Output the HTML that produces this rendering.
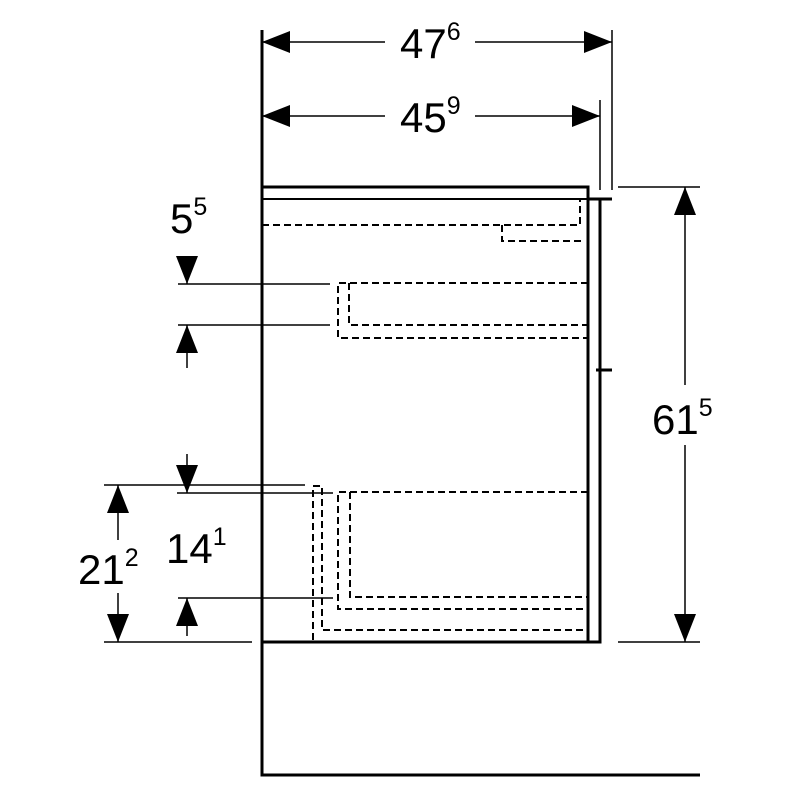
<!DOCTYPE html><html><head><style>body{margin:0;background:#fff}</style></head><body>
<svg width="800" height="800" viewBox="0 0 800 800" xmlns="http://www.w3.org/2000/svg" font-family="Liberation Sans, sans-serif">
<defs>
<marker id="a" viewBox="0 0 28 22" refX="28" refY="11" markerWidth="28" markerHeight="22" markerUnits="userSpaceOnUse" orient="auto"><path d="M0,0L28,11L0,22z" fill="#000"/></marker>
</defs>
<g stroke="#000" fill="none">
<path d="M262,30V775H700" stroke-width="3"/>
<path d="M262,187H588V642H262" stroke-width="3"/>
<path d="M262,199H588" stroke-width="2"/>
<path d="M588,199H600V642H588" stroke-width="3"/>
<path d="M596,199H612M596,370H612" stroke-width="3"/>
<g stroke-width="2" stroke-dasharray="7,4">
<path d="M262,225H580V199"/>
<path d="M502,225V241H585"/>
<path d="M588,283H338V338H588"/>
<path d="M349,283V325H588"/>
<path d="M313,640V486H322V630H588"/>
<path d="M588,492H338V609H588"/>
<path d="M350,492V597H588"/>
</g>
<g stroke-width="1.5">
<path d="M612,30V190M600,100V190M618,187H700M618,642H700"/>
<path d="M178,284H330M178,325H330M104,485H305M177,493H333M178,598H333M104,642H252"/>
<path d="M385,42H262" marker-end="url(#a)"/>
<path d="M475,42H612" marker-end="url(#a)"/>
<path d="M385,116H262" marker-end="url(#a)"/>
<path d="M475,116H600" marker-end="url(#a)"/>
<path d="M685,385V187" marker-end="url(#a)"/>
<path d="M685,445V642" marker-end="url(#a)"/>
<path d="M187,256V284" marker-end="url(#a)"/>
<path d="M187,368V325" marker-end="url(#a)"/>
<path d="M187,454V493" marker-end="url(#a)"/>
<path d="M187,636V598" marker-end="url(#a)"/>
<path d="M118,540V485" marker-end="url(#a)"/>
<path d="M118,593V642" marker-end="url(#a)"/>
</g>
</g>
<g font-size="42" fill="#000">
<text x="400" y="58">47<tspan font-size="25" dy="-18">6</tspan></text>
<text x="400" y="132">45<tspan font-size="25" dy="-18">9</tspan></text>
<text x="170" y="233">5<tspan font-size="25" dy="-18">5</tspan></text>
<text x="652" y="434">61<tspan font-size="25" dy="-18">5</tspan></text>
<text x="78" y="584">21<tspan font-size="25" dy="-18">2</tspan></text>
<text x="166" y="563">14<tspan font-size="25" dy="-18">1</tspan></text>
</g>
</svg>
</body></html>
